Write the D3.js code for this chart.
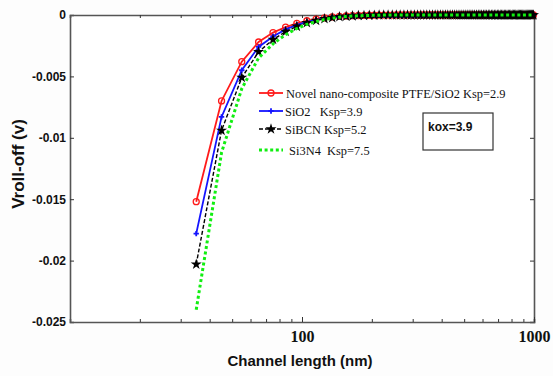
<!DOCTYPE html>
<html>
<head>
<meta charset="utf-8">
<script src="https://cdn.jsdelivr.net/npm/d3@7/dist/d3.min.js"></script>
<style>
  body { margin: 0; background: #fdfdfd; }
  text { white-space: pre; }
</style>
</head>
<body>
<div id="graph"></div>
<script>
// channel lengths (nm)
const lengths = [35, 45, 55, 65, 75, 85, 95, 105, 115, 125, 135, 145, 155, 165, 175, 185, 195, 205, 215, 225,
  235, 245, 255, 265, 275, 285, 295, 305, 315, 325, 335, 345, 355, 365, 375, 385, 395, 405, 415, 425,
  435, 445, 455, 465, 475, 485, 495, 505, 515, 525, 535, 545, 555, 565, 575, 585, 595, 605, 615, 625,
  635, 645, 655, 665, 675, 685, 695, 705, 715, 725, 735, 745, 755, 765, 775, 785, 795, 805, 815, 825,
  835, 845, 855, 865, 875, 885, 895, 905, 915, 925, 935, 945, 955, 965, 975, 985, 995];

// Vroll-off (v) per spacer
const ptfe = [-0.0152, -0.0070, -0.0038, -0.0022, -0.00143, -0.00098, -0.00068, -0.00047, -0.00033, -0.00023,
  -0.00016, -0.00011, -0.00008, -0.000055, -0.00004, -0.00003, -0.00002, -0.000015, -0.00001, -0.000007,
  -0.000005, -0.000003, -0.000002, -0.000001, 0, 0, 0, 0, 0, 0,
  0, 0, 0, 0, 0, 0, 0, 0, 0, 0,  0, 0, 0, 0, 0, 0, 0, 0, 0, 0,  0, 0, 0, 0, 0, 0, 0, 0, 0, 0,
  0, 0, 0, 0, 0, 0, 0, 0, 0, 0,  0, 0, 0, 0, 0, 0, 0, 0, 0, 0,  0, 0, 0, 0, 0, 0, 0, 0, 0, 0,
  0, 0, 0, 0, 0, 0, 0];
const sio2 = [-0.0178, -0.0083, -0.0045, -0.0026, -0.00175, -0.00117, -0.00081, -0.00056, -0.00039, -0.00027,
  -0.00019, -0.00013, -0.00009, -0.000065, -0.000045, -0.000032, -0.000023, -0.000016, -0.000011, -0.000008,
  -0.000006, -0.000004, -0.000003, -0.000002, 0, 0, 0, 0, 0, 0,
  0, 0, 0, 0, 0, 0, 0, 0, 0, 0,  0, 0, 0, 0, 0, 0, 0, 0, 0, 0,  0, 0, 0, 0, 0, 0, 0, 0, 0, 0,
  0, 0, 0, 0, 0, 0, 0, 0, 0, 0,  0, 0, 0, 0, 0, 0, 0, 0, 0, 0,  0, 0, 0, 0, 0, 0, 0, 0, 0, 0,
  0, 0, 0, 0, 0, 0, 0];
const sibcn = [-0.0203, -0.0094, -0.0051, -0.0030, -0.0020, -0.00135, -0.00093, -0.00064, -0.00045, -0.00031,
  -0.00022, -0.00015, -0.00011, -0.000075, -0.000052, -0.000037, -0.000026, -0.000018, -0.000013, -0.000009,
  -0.000006, -0.000004, -0.000003, -0.000002, 0, 0, 0, 0, 0, 0,
  0, 0, 0, 0, 0, 0, 0, 0, 0, 0,  0, 0, 0, 0, 0, 0, 0, 0, 0, 0,  0, 0, 0, 0, 0, 0, 0, 0, 0, 0,
  0, 0, 0, 0, 0, 0, 0, 0, 0, 0,  0, 0, 0, 0, 0, 0, 0, 0, 0, 0,  0, 0, 0, 0, 0, 0, 0, 0, 0, 0,
  0, 0, 0, 0, 0, 0, 0];
const si3n4 = [-0.0240, -0.0112, -0.0060, -0.0035, -0.00235, -0.0016, -0.0011, -0.00076, -0.00053, -0.00037,
  -0.00026, -0.00018, -0.00013, -0.00009, -0.000062, -0.000044, -0.000031, -0.000022, -0.000015, -0.00001,
  -0.000007, -0.000005, -0.000003, -0.000002, 0, 0, 0, 0, 0, 0,
  0, 0, 0, 0, 0, 0, 0, 0, 0, 0,  0, 0, 0, 0, 0, 0, 0, 0, 0, 0,  0, 0, 0, 0, 0, 0, 0, 0, 0, 0,
  0, 0, 0, 0, 0, 0, 0, 0, 0, 0,  0, 0, 0, 0, 0, 0, 0, 0, 0, 0,  0, 0, 0, 0, 0, 0, 0, 0, 0, 0,
  0, 0, 0, 0, 0, 0, 0];

const legendLabels = ["Novel nano-composite PTFE/SiO2 Ksp=2.9", "SiO2   Ksp=3.9", "SiBCN Ksp=5.2", " Si3N4  Ksp=7.5"];
const yTicks = [0, -0.005, -0.01, -0.015, -0.02, -0.025];
const xMajor = [100, 1000];
const xMinor = [20, 30, 40, 50, 60, 70, 80, 90, 200, 300, 400, 500, 600, 700, 800, 900];

const width = 553, height = 376;
const margin = { left: 70, right: 534, top: 15, bottom: 322 };

let svg = d3.select("#graph")
  .append("svg")
  .attr("width", width)
  .attr("height", height);

let x = d3.scaleLog().domain([10, 1000]).range([margin.left, margin.right]);
let y = d3.scaleLinear().domain([-0.025, 0]).range([margin.bottom, margin.top]);

svg.append("rect")
  .attr("x", margin.left).attr("y", margin.top)
  .attr("width", margin.right - margin.left).attr("height", margin.bottom - margin.top)
  .attr("fill", "#ffffff");

// axes (ticks point inward)
let axisColor = "#555";
let yAxis = svg.append("g")
  .attr("transform", `translate(${margin.left},0)`)
  .call(d3.axisLeft(y).tickValues(yTicks).tickSize(-4).tickPadding(4)
    .tickFormat(d => d === 0 ? "0" : String(+d.toFixed(3))));
svg.append("g")
  .attr("transform", `translate(${margin.right},0)`)
  .call(d3.axisRight(y).tickValues(yTicks).tickSize(-4).tickFormat(""));

let xAxis = svg.append("g")
  .attr("transform", `translate(0,${margin.bottom})`)
  .call(d3.axisBottom(x).tickValues(xMinor.concat(xMajor)).tickSize(-3).tickPadding(9)
    .tickFormat(d => xMajor.includes(d) ? d : ""));
xAxis.selectAll(".tick line").filter(d => xMajor.includes(d)).attr("y2", -5);
svg.append("g")
  .attr("transform", `translate(0,${margin.top})`)
  .call(d3.axisTop(x).tickValues(xMinor.concat(xMajor)).tickSize(-3).tickFormat(""));

svg.selectAll(".domain").attr("stroke", axisColor).attr("stroke-width", 1.6);
svg.selectAll(".tick line").attr("stroke", "#333");

yAxis.selectAll("text")
  .style("font-family", "'Liberation Sans', Arial, sans-serif")
  .style("font-weight", "bold")
  .style("font-size", "12px")
  .attr("fill", "#111");
xAxis.selectAll("text")
  .style("font-family", "'Liberation Serif', 'Times New Roman', serif")
  .style("font-weight", "bold")
  .style("font-size", "16px")
  .attr("fill", "#111");

// axis titles
svg.append("text")
  .attr("x", 300).attr("y", 366)
  .style("text-anchor", "middle")
  .style("font-family", "'Liberation Sans', Arial, sans-serif")
  .style("font-weight", "bold")
  .style("font-size", "15px")
  .attr("fill", "#111")
  .text("Channel length (nm)");
svg.append("text")
  .attr("transform", `translate(24, 164) rotate(-90)`)
  .style("text-anchor", "middle")
  .style("font-family", "'Liberation Sans', Arial, sans-serif")
  .style("font-weight", "bold")
  .style("font-size", "17px")
  .attr("fill", "#111")
  .text("Vroll-off (v)");

// series
let series = [
  { name: legendLabels[0], values: ptfe, color: "#ff1a1a", dash: null, width: 1.8, marker: "circle" },
  { name: legendLabels[1], values: sio2, color: "#1414ff", dash: null, width: 1.8, marker: "cross" },
  { name: legendLabels[2], values: sibcn, color: "#000000", dash: "4,2", width: 1.4, marker: "star" },
  { name: legendLabels[3], values: si3n4, color: "#11ee11", dash: "3,2.6", width: 3, marker: null }
];

let line = d3.line()
  .x(d => x(d[0]))
  .y(d => y(d[1]));

function drawMarker(g, type, color, px, py) {
  if (type === "circle") {
    g.append("circle").attr("cx", px).attr("cy", py).attr("r", 3)
      .attr("fill", "none").attr("stroke", color).attr("stroke-width", 1.3);
  } else if (type === "cross") {
    g.append("path").attr("d", d3.symbol().type(d3.symbolCross).size(16)())
      .attr("transform", `translate(${px},${py})`).attr("fill", color);
  } else if (type === "star") {
    g.append("path").attr("d", d3.symbol().type(d3.symbolStar).size(38)())
      .attr("transform", `translate(${px},${py})`).attr("fill", color);
  }
}

series.forEach(function(s) {
  let pts = lengths.map((l, i) => [l, s.values[i]]);
  let g = svg.append("g");
  g.append("path")
    .datum(pts)
    .attr("d", line)
    .attr("fill", "none")
    .attr("stroke", s.color)
    .attr("stroke-width", s.width)
    .attr("stroke-dasharray", s.dash);
  if (s.marker) {
    pts.forEach(p => drawMarker(g, s.marker, s.color, x(p[0]), y(p[1])));
  }
});

// legend
let legend = svg.append("g");
let legendY = [93, 111, 129, 150];
let textX = [286, 285, 285, 286];
series.forEach(function(s, i) {
  legend.append("line")
    .attr("x1", 259).attr("x2", 283)
    .attr("y1", legendY[i]).attr("y2", legendY[i])
    .attr("stroke", s.color)
    .attr("stroke-width", s.width)
    .attr("stroke-dasharray", s.dash);
  if (s.marker) drawMarker(legend, s.marker, s.color, 271, legendY[i]);
  legend.append("text")
    .attr("transform", `translate(${textX[i]}, ${legendY[i] + 5}) scale(0.92, 1)`)
    .style("font-family", "'Liberation Serif', 'Times New Roman', serif")
    .style("font-size", "13.5px")
    .attr("fill", "#111")
    .text(s.name);
});

// kox box
svg.append("rect")
  .attr("x", 423).attr("y", 113)
  .attr("width", 70).attr("height", 37)
  .attr("fill", "none")
  .attr("stroke", "#333")
  .attr("stroke-width", 1.2);
svg.append("text")
  .attr("x", 428).attr("y", 131)
  .style("font-family", "'Liberation Sans', Arial, sans-serif")
  .style("font-weight", "bold")
  .style("font-size", "12px")
  .attr("fill", "#111")
  .text("kox=3.9");
</script>
</body>
</html>
